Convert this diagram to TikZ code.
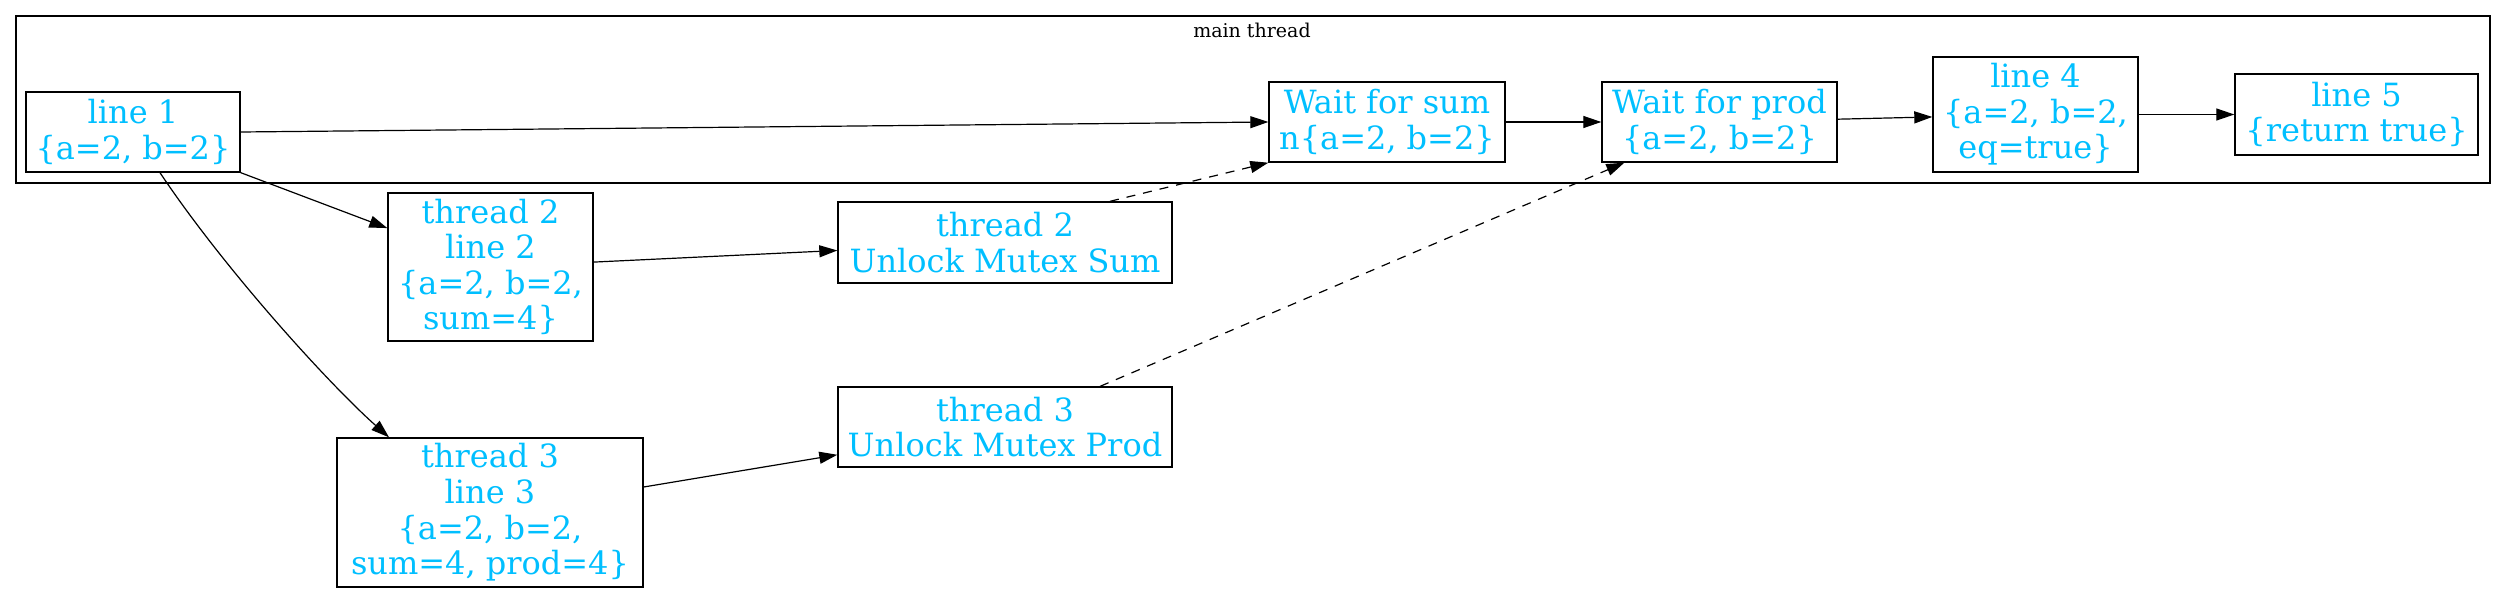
\documentclass[tikz,border=0pt]{standalone}
\usepackage{xcolor}
\usepackage{fontspec}
\usepackage{tikz}
\usetikzlibrary{arrows.meta}
\setmainfont{DejaVu Serif}
\definecolor{deepskyblue}{RGB}{0,191,255}

\begin{document}
\begin{tikzpicture}[x=0.5pt, y=-0.5pt,
        state/.style={draw, line width=0.7pt, align=center, inner sep=0pt,
            text=deepskyblue, font=\fontsize{16}{17.8}\selectfont},
        flow/.style={-{Triangle[length=9pt,width=6pt]}, line width=0.6pt},
        unlock/.style={flow, dash pattern=on 4.5pt off 4pt}]
        \useasboundingbox (0,0) rectangle (2504,593);
        % main thread cluster
        \draw[line width=0.7pt] (16,16) rectangle (2490,183);
        \node[font=\fontsize{9.5}{11}\selectfont] (mainlbl) at (1252,30) {main thread};
        \node[state, minimum width=107pt, minimum height=40pt] (l1) at (133,132) {line 1\\\{a=2, b=2\}};
        \node[state, minimum width=118pt, minimum height=40pt] (wsum) at (1387,122) {Wait for sum\\n\{a=2, b=2\}};
        \node[state, minimum width=117.5pt, minimum height=40pt] (wprod) at (1719.5,122) {Wait for prod\\\{a=2, b=2\}};
        \node[state, minimum width=102.5pt, minimum height=57.5pt] (l4) at (2035.5,114.5) {line 4\\\{a=2, b=2,\\eq=true\}};
        \node[state, minimum width=121.5pt, minimum height=40.5pt] (l5) at (2356.5,114.5) {line 5\\\{return true\}};
        % threads
        \node[state, minimum width=102.5pt, minimum height=74pt] (t2l2) at (490.5,267) {thread 2\\line 2\\\{a=2, b=2,\\sum=4\}};
        \node[state, minimum width=167pt, minimum height=40.5pt] (t2u) at (1005,242.5) {thread 2\\Unlock Mutex Sum};
        \node[state, minimum width=153pt, minimum height=74.5pt] (t3l3) at (490,512.5) {thread 3\\line 3\\\{a=2, b=2,\\sum=4, prod=4\}};
        \node[state, minimum width=167pt, minimum height=40pt] (t3u) at (1005,427) {thread 3\\Unlock Mutex Prod};

        \draw[flow] (l1.east) -- (wsum.west);
        \draw[flow] (wsum) -- (wprod);
        \draw[flow] (wprod) -- (l4);
        \draw[flow] (l4) -- (l5);
        \draw[flow] (l1) -- (t2l2);
        \draw[flow] ([xshift=13.5pt]l1.south) .. controls (225,270) and (330,385) .. ([xshift=-50.5pt]t3l3.north);
        \draw[flow] (t2l2) -- (t2u);
        \draw[flow] (t3l3) -- (t3u);
        \draw[unlock] ([xshift=52.5pt]t2u.north) -- (wsum.south west);
        \draw[unlock] (t3u) -- (wprod);
\end{tikzpicture}
\end{document}
